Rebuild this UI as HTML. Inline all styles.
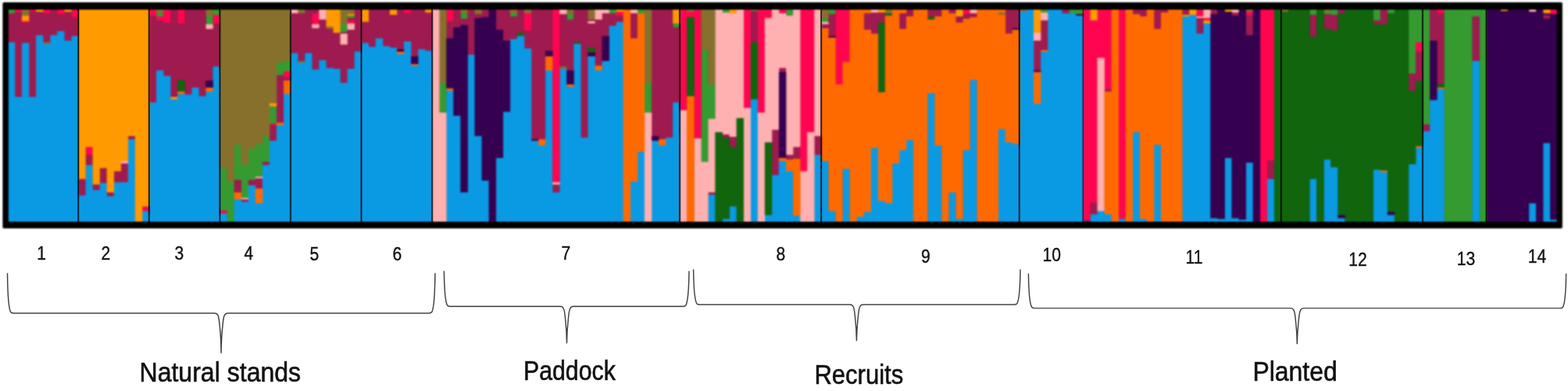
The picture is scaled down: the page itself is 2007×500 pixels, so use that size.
<!DOCTYPE html>
<html><head><meta charset="utf-8"><title>Structure plot</title>
<style>
html,body{margin:0;padding:0;background:#fff;}
body{width:2007px;height:500px;overflow:hidden;}
svg{display:block;}
text{font-family:"Liberation Sans",sans-serif;fill:#111;}
</style></head><body>
<svg width="2007" height="500" viewBox="0 0 2007 500">
<rect width="2007" height="500" fill="#fff"/>
<defs><filter id="bl" color-interpolation-filters="sRGB" x="-1%" y="-5%" width="102%" height="110%"><feGaussianBlur stdDeviation="0.8"/></filter></defs>
<g filter="url(#bl)">
<rect x="4.5" y="4" width="1994" height="287" fill="#000"/>
<g id="bars">
<path fill="#359B30" d="M9.85 11.8h9.36v5.2h-9.36zM200.03 17.0h9.36v4.0h-9.36zM263.42 20.0h9.36v11.0h-9.36zM272.48 11.8h9.36v7.2h-9.36zM281.53 215.0h9.36v54.0h-9.36zM290.59 232.0h9.36v52.2h-9.36zM299.65 185.0h9.36v45.0h-9.36zM308.70 211.0h9.36v42.0h-9.36zM317.76 190.0h9.36v40.0h-9.36zM326.82 184.0h9.36v42.0h-9.36zM335.87 174.0h9.36v33.0h-9.36zM344.93 136.0h9.36v22.0h-9.36zM353.98 80.0h9.36v16.0h-9.36zM363.04 78.0h9.36v13.0h-9.36zM435.49 31.0h9.36v10.0h-9.36zM444.55 20.0h9.36v3.0h-9.36zM562.28 106.0h9.36v38.0h-9.36zM589.44 17.0h9.36v7.0h-9.36zM652.84 17.0h9.36v4.0h-9.36zM725.29 18.0h9.36v7.0h-9.36zM779.62 11.8h9.36v5.2h-9.36zM815.85 11.8h9.36v5.2h-9.36zM824.90 106.0h9.36v38.0h-9.36zM861.13 30.0h9.36v5.0h-9.36zM897.35 64.0h9.36v143.0h-9.36zM906.41 108.0h9.36v44.0h-9.36zM924.52 11.8h9.36v4.2h-9.36zM1006.03 11.8h9.36v8.2h-9.36zM1051.31 23.0h9.36v5.0h-9.36zM1060.37 11.8h9.36v6.2h-9.36zM1332.05 11.8h9.36v4.2h-9.36zM1368.27 11.8h9.36v5.2h-9.36zM1377.33 11.8h9.36v6.2h-9.36zM1676.18 11.8h9.36v7.2h-9.36zM1694.30 15.0h9.36v3.0h-9.36zM1703.35 11.8h9.36v7.2h-9.36zM1757.69 11.8h9.36v14.2h-9.36zM1775.80 11.8h9.36v5.2h-9.36zM1802.97 11.8h9.36v82.2h-9.36zM1812.03 11.8h9.36v42.2h-9.36zM1821.08 11.8h9.36v147.2h-9.36zM1848.25 11.8h9.36v272.4h-9.36zM1857.31 11.8h9.36v272.4h-9.36zM1866.36 11.8h9.36v272.4h-9.36zM1875.42 11.8h9.36v272.4h-9.36zM1884.48 11.8h9.36v9.2h-9.36zM1893.53 11.8h9.36v272.4h-9.36z"/>
<path fill="#9E1A4F" d="M9.85 17.0h9.36v37.0h-9.36zM18.91 15.0h9.36v109.0h-9.36zM27.96 29.0h9.36v26.0h-9.36zM37.02 14.0h9.36v110.0h-9.36zM46.07 15.0h9.36v30.0h-9.36zM55.13 17.0h9.36v37.0h-9.36zM64.19 11.8h9.36v33.2h-9.36zM73.24 18.0h9.36v22.0h-9.36zM82.30 15.0h9.36v37.0h-9.36zM91.36 22.0h9.36v24.0h-9.36zM100.41 229.0h9.36v21.0h-9.36zM109.47 198.0h9.36v13.0h-9.36zM118.52 236.0h9.36v7.0h-9.36zM127.58 215.0h9.36v19.0h-9.36zM136.64 246.0h9.36v5.0h-9.36zM145.69 219.0h9.36v14.0h-9.36zM154.75 209.0h9.36v24.0h-9.36zM163.80 174.0h9.36v4.0h-9.36zM190.97 20.0h9.36v111.0h-9.36zM200.03 26.0h9.36v64.0h-9.36zM209.09 29.0h9.36v68.0h-9.36zM218.14 11.8h9.36v112.2h-9.36zM227.20 30.0h9.36v72.0h-9.36zM236.25 11.8h9.36v109.2h-9.36zM245.31 11.8h9.36v100.2h-9.36zM254.37 11.8h9.36v111.2h-9.36zM263.42 37.0h9.36v66.0h-9.36zM272.48 30.0h9.36v55.0h-9.36zM299.65 230.0h9.36v16.0h-9.36zM308.70 255.0h9.36v3.0h-9.36zM317.76 230.0h9.36v7.0h-9.36zM326.82 228.0h9.36v13.0h-9.36zM335.87 207.0h9.36v4.0h-9.36zM344.93 160.0h9.36v20.0h-9.36zM353.98 96.0h9.36v61.0h-9.36zM363.04 99.0h9.36v4.0h-9.36zM372.10 17.0h9.36v51.0h-9.36zM381.15 17.0h9.36v61.0h-9.36zM390.21 11.8h9.36v56.2h-9.36zM399.27 11.8h9.36v5.2h-9.36zM399.27 36.0h9.36v53.0h-9.36zM408.32 25.0h9.36v52.0h-9.36zM417.38 37.0h9.36v50.0h-9.36zM426.43 42.0h9.36v46.0h-9.36zM435.49 41.0h9.36v2.0h-9.36zM435.49 57.0h9.36v49.0h-9.36zM444.55 23.0h9.36v3.0h-9.36zM444.55 38.0h9.36v50.0h-9.36zM453.60 11.8h9.36v54.2h-9.36zM462.66 28.0h9.36v27.0h-9.36zM471.71 11.8h9.36v48.2h-9.36zM480.77 11.8h9.36v37.2h-9.36zM489.83 11.8h9.36v47.2h-9.36zM498.88 19.0h9.36v42.0h-9.36zM507.94 11.8h9.36v51.2h-9.36zM517.00 17.0h9.36v36.0h-9.36zM526.05 11.8h9.36v60.2h-9.36zM535.11 11.8h9.36v51.2h-9.36zM544.16 16.0h9.36v49.0h-9.36zM571.33 27.0h9.36v22.0h-9.36zM580.39 11.8h9.36v23.2h-9.36zM589.44 24.0h9.36v8.0h-9.36zM598.50 11.8h9.36v58.2h-9.36zM607.56 18.0h9.36v5.0h-9.36zM616.61 11.8h9.36v10.2h-9.36zM634.73 11.8h9.36v26.2h-9.36zM643.78 11.8h9.36v40.2h-9.36zM652.84 21.0h9.36v29.0h-9.36zM661.89 11.8h9.36v30.2h-9.36zM670.95 39.0h9.36v23.0h-9.36zM680.01 11.8h9.36v166.2h-9.36zM689.06 11.8h9.36v166.2h-9.36zM698.12 11.8h9.36v53.2h-9.36zM707.17 236.0h9.36v10.0h-9.36zM716.23 18.0h9.36v67.0h-9.36zM725.29 25.0h9.36v65.0h-9.36zM734.34 11.8h9.36v42.2h-9.36zM743.40 11.8h9.36v164.2h-9.36zM752.46 25.0h9.36v2.0h-9.36zM752.46 30.0h9.36v31.0h-9.36zM761.51 25.0h9.36v59.0h-9.36zM770.57 17.0h9.36v29.0h-9.36zM779.62 17.0h9.36v16.0h-9.36zM788.68 20.0h9.36v8.0h-9.36zM806.79 17.0h9.36v32.0h-9.36zM833.96 11.8h9.36v162.2h-9.36zM843.02 11.8h9.36v166.2h-9.36zM852.07 11.8h9.36v164.2h-9.36zM861.13 35.0h9.36v96.0h-9.36zM906.41 246.0h9.36v3.0h-9.36zM924.52 172.0h9.36v4.0h-9.36zM933.58 175.0h9.36v13.0h-9.36zM960.75 14.0h9.36v40.0h-9.36zM987.92 166.0h9.36v58.0h-9.36zM996.97 87.0h9.36v5.0h-9.36zM1006.03 198.0h9.36v6.0h-9.36zM1015.08 188.0h9.36v15.0h-9.36zM1042.25 174.0h9.36v24.0h-9.36zM1051.31 31.0h9.36v5.0h-9.36zM1060.37 18.0h9.36v28.0h-9.36zM1105.65 17.0h9.36v21.0h-9.36zM1114.70 16.0h9.36v27.0h-9.36zM1123.76 16.0h9.36v13.0h-9.36zM1150.93 17.0h9.36v20.0h-9.36zM1159.98 11.8h9.36v9.2h-9.36zM1187.15 11.8h9.36v9.2h-9.36zM1196.21 11.8h9.36v9.2h-9.36zM1214.32 11.8h9.36v5.2h-9.36zM1223.38 21.0h9.36v8.0h-9.36zM1232.43 18.0h9.36v6.0h-9.36zM1241.49 17.0h9.36v5.0h-9.36zM1286.77 11.8h9.36v31.2h-9.36zM1295.83 11.8h9.36v24.2h-9.36zM1322.99 52.0h9.36v38.0h-9.36zM1332.05 26.0h9.36v38.0h-9.36zM1359.22 11.8h9.36v5.2h-9.36zM1386.39 281.0h9.36v3.2h-9.36zM1395.44 259.0h9.36v15.0h-9.36zM1413.56 114.0h9.36v3.0h-9.36zM1449.78 11.8h9.36v6.2h-9.36zM1458.84 11.8h9.36v9.2h-9.36zM1476.95 11.8h9.36v25.2h-9.36zM1486.00 11.8h9.36v4.2h-9.36zM1513.17 11.8h9.36v7.2h-9.36zM1531.29 23.0h9.36v20.0h-9.36zM1549.40 11.8h9.36v6.2h-9.36zM1576.57 16.0h9.36v4.0h-9.36zM1594.68 20.0h9.36v25.0h-9.36zM1621.85 205.0h9.36v24.0h-9.36zM1676.18 19.0h9.36v28.0h-9.36zM1694.30 18.0h9.36v19.0h-9.36zM1703.35 19.0h9.36v20.0h-9.36zM1712.41 11.8h9.36v5.2h-9.36zM1757.69 26.0h9.36v5.0h-9.36zM1766.75 11.8h9.36v19.2h-9.36zM1802.97 94.0h9.36v22.0h-9.36zM1812.03 66.0h9.36v37.0h-9.36zM1821.08 159.0h9.36v9.0h-9.36zM1830.14 11.8h9.36v40.2h-9.36zM1839.20 17.0h9.36v90.0h-9.36zM1884.48 21.0h9.36v57.0h-9.36zM1975.04 19.0h9.36v5.0h-9.36z"/>
<path fill="#0A9AE4" d="M9.85 54.0h9.36v230.2h-9.36zM18.91 124.0h9.36v160.2h-9.36zM27.96 55.0h9.36v229.2h-9.36zM37.02 124.0h9.36v160.2h-9.36zM46.07 45.0h9.36v239.2h-9.36zM55.13 56.0h9.36v228.2h-9.36zM64.19 45.0h9.36v239.2h-9.36zM73.24 40.0h9.36v244.2h-9.36zM82.30 52.0h9.36v232.2h-9.36zM91.36 46.0h9.36v238.2h-9.36zM100.41 250.0h9.36v34.2h-9.36zM109.47 211.0h9.36v73.2h-9.36zM118.52 243.0h9.36v41.2h-9.36zM127.58 234.0h9.36v50.2h-9.36zM136.64 251.0h9.36v33.2h-9.36zM145.69 233.0h9.36v51.2h-9.36zM154.75 233.0h9.36v51.2h-9.36zM163.80 178.0h9.36v106.2h-9.36zM181.92 270.0h9.36v14.2h-9.36zM190.97 131.0h9.36v153.2h-9.36zM200.03 90.0h9.36v194.2h-9.36zM209.09 97.0h9.36v187.2h-9.36zM218.14 127.0h9.36v157.2h-9.36zM227.20 120.0h9.36v164.2h-9.36zM236.25 121.0h9.36v163.2h-9.36zM245.31 112.0h9.36v172.2h-9.36zM254.37 123.0h9.36v161.2h-9.36zM263.42 117.0h9.36v167.2h-9.36zM272.48 85.0h9.36v199.2h-9.36zM281.53 273.0h9.36v11.2h-9.36zM299.65 255.0h9.36v29.2h-9.36zM308.70 258.0h9.36v26.2h-9.36zM317.76 237.0h9.36v47.2h-9.36zM326.82 260.0h9.36v24.2h-9.36zM335.87 211.0h9.36v73.2h-9.36zM344.93 180.0h9.36v104.2h-9.36zM353.98 160.0h9.36v124.2h-9.36zM363.04 120.0h9.36v164.2h-9.36zM372.10 68.0h9.36v216.2h-9.36zM381.15 80.0h9.36v204.2h-9.36zM390.21 68.0h9.36v216.2h-9.36zM399.27 89.0h9.36v195.2h-9.36zM408.32 77.0h9.36v207.2h-9.36zM417.38 87.0h9.36v197.2h-9.36zM426.43 88.0h9.36v196.2h-9.36zM435.49 106.0h9.36v178.2h-9.36zM444.55 88.0h9.36v196.2h-9.36zM453.60 66.0h9.36v218.2h-9.36zM462.66 55.0h9.36v229.2h-9.36zM471.71 60.0h9.36v224.2h-9.36zM480.77 49.0h9.36v235.2h-9.36zM489.83 59.0h9.36v225.2h-9.36zM498.88 61.0h9.36v223.2h-9.36zM507.94 69.0h9.36v215.2h-9.36zM517.00 53.0h9.36v231.2h-9.36zM526.05 84.0h9.36v200.2h-9.36zM535.11 63.0h9.36v221.2h-9.36zM544.16 65.0h9.36v219.2h-9.36zM571.33 116.0h9.36v168.2h-9.36zM580.39 148.0h9.36v136.2h-9.36zM589.44 246.0h9.36v38.2h-9.36zM598.50 70.0h9.36v214.2h-9.36zM607.56 174.0h9.36v110.2h-9.36zM616.61 231.0h9.36v53.2h-9.36zM634.73 202.0h9.36v82.2h-9.36zM643.78 143.0h9.36v141.2h-9.36zM652.84 50.0h9.36v234.2h-9.36zM661.89 46.0h9.36v238.2h-9.36zM670.95 62.0h9.36v222.2h-9.36zM680.01 180.0h9.36v104.2h-9.36zM689.06 186.0h9.36v98.2h-9.36zM698.12 90.0h9.36v194.2h-9.36zM707.17 246.0h9.36v38.2h-9.36zM716.23 88.0h9.36v196.2h-9.36zM725.29 111.0h9.36v173.2h-9.36zM734.34 56.0h9.36v228.2h-9.36zM743.40 176.0h9.36v108.2h-9.36zM752.46 72.0h9.36v212.2h-9.36zM761.51 90.0h9.36v194.2h-9.36zM770.57 78.0h9.36v206.2h-9.36zM779.62 33.0h9.36v251.2h-9.36zM788.68 28.0h9.36v256.2h-9.36zM806.79 232.0h9.36v52.2h-9.36zM815.85 194.0h9.36v90.2h-9.36zM833.96 180.0h9.36v104.2h-9.36zM843.02 186.0h9.36v98.2h-9.36zM852.07 176.0h9.36v108.2h-9.36zM861.13 131.0h9.36v153.2h-9.36zM906.41 249.0h9.36v35.2h-9.36zM924.52 280.0h9.36v4.2h-9.36zM933.58 264.0h9.36v20.2h-9.36zM960.75 127.0h9.36v157.2h-9.36zM978.86 275.0h9.36v9.2h-9.36zM987.92 224.0h9.36v60.2h-9.36zM996.97 206.0h9.36v78.2h-9.36zM1006.03 219.0h9.36v65.2h-9.36zM1015.08 276.0h9.36v8.2h-9.36zM1042.25 198.0h9.36v86.2h-9.36zM1051.31 206.0h9.36v78.2h-9.36zM1060.37 270.0h9.36v14.2h-9.36zM1078.48 216.0h9.36v68.2h-9.36zM1096.59 277.0h9.36v7.2h-9.36zM1105.65 271.0h9.36v13.2h-9.36zM1114.70 189.0h9.36v95.2h-9.36zM1123.76 257.0h9.36v27.2h-9.36zM1132.81 260.0h9.36v24.2h-9.36zM1141.87 209.0h9.36v75.2h-9.36zM1150.93 192.0h9.36v92.2h-9.36zM1159.98 179.0h9.36v105.2h-9.36zM1187.15 119.0h9.36v165.2h-9.36zM1196.21 186.0h9.36v98.2h-9.36zM1214.32 246.0h9.36v38.2h-9.36zM1223.38 280.0h9.36v4.2h-9.36zM1232.43 192.0h9.36v92.2h-9.36zM1241.49 102.0h9.36v182.2h-9.36zM1277.71 165.0h9.36v119.2h-9.36zM1286.77 182.0h9.36v102.2h-9.36zM1295.83 184.0h9.36v100.2h-9.36zM1304.88 15.0h9.36v269.2h-9.36zM1313.94 11.8h9.36v272.4h-9.36zM1322.99 133.0h9.36v151.2h-9.36zM1332.05 66.0h9.36v218.2h-9.36zM1341.11 11.8h9.36v272.4h-9.36zM1350.16 11.8h9.36v272.4h-9.36zM1359.22 17.0h9.36v267.2h-9.36zM1368.27 17.0h9.36v267.2h-9.36zM1377.33 20.0h9.36v264.2h-9.36zM1395.44 274.0h9.36v10.2h-9.36zM1404.50 270.0h9.36v14.2h-9.36zM1413.56 274.0h9.36v10.2h-9.36zM1431.67 280.0h9.36v4.2h-9.36zM1449.78 169.0h9.36v115.2h-9.36zM1458.84 280.0h9.36v4.2h-9.36zM1476.95 185.0h9.36v99.2h-9.36zM1513.17 21.0h9.36v263.2h-9.36zM1522.23 19.0h9.36v265.2h-9.36zM1531.29 43.0h9.36v241.2h-9.36zM1540.34 30.0h9.36v254.2h-9.36zM1549.40 279.0h9.36v5.2h-9.36zM1558.45 280.0h9.36v4.2h-9.36zM1567.51 202.0h9.36v82.2h-9.36zM1576.57 279.0h9.36v5.2h-9.36zM1585.62 281.0h9.36v3.2h-9.36zM1594.68 208.0h9.36v76.2h-9.36zM1621.85 229.0h9.36v55.2h-9.36zM1676.18 229.0h9.36v55.2h-9.36zM1694.30 204.0h9.36v80.2h-9.36zM1703.35 214.0h9.36v70.2h-9.36zM1712.41 279.0h9.36v5.2h-9.36zM1757.69 217.0h9.36v67.2h-9.36zM1766.75 220.0h9.36v64.2h-9.36zM1775.80 275.0h9.36v9.2h-9.36zM1802.97 210.0h9.36v74.2h-9.36zM1812.03 189.0h9.36v95.2h-9.36zM1821.08 168.0h9.36v116.2h-9.36zM1830.14 128.0h9.36v156.2h-9.36zM1839.20 114.0h9.36v170.2h-9.36zM1884.48 78.0h9.36v206.2h-9.36zM1956.93 260.0h9.36v24.2h-9.36zM1975.04 183.0h9.36v101.2h-9.36zM1984.09 281.0h9.36v3.2h-9.36z"/>
<path fill="#FF0550" d="M18.91 11.8h9.36v3.2h-9.36zM27.96 27.0h9.36v2.0h-9.36zM37.02 11.8h9.36v2.2h-9.36zM55.13 11.8h9.36v5.2h-9.36zM73.24 11.8h9.36v6.2h-9.36zM91.36 11.8h9.36v10.2h-9.36zM109.47 188.0h9.36v10.0h-9.36zM181.92 264.0h9.36v6.0h-9.36zM190.97 11.8h9.36v8.2h-9.36zM200.03 21.0h9.36v5.0h-9.36zM209.09 11.8h9.36v17.2h-9.36zM227.20 11.8h9.36v18.2h-9.36zM272.48 19.0h9.36v11.0h-9.36zM281.53 269.0h9.36v4.0h-9.36zM344.93 158.0h9.36v2.0h-9.36zM363.04 91.0h9.36v8.0h-9.36zM399.27 17.0h9.36v14.0h-9.36zM444.55 26.0h9.36v4.0h-9.36zM517.00 11.8h9.36v5.2h-9.36zM571.33 11.8h9.36v15.2h-9.36zM670.95 17.0h9.36v22.0h-9.36zM707.17 11.8h9.36v221.2h-9.36zM788.68 15.0h9.36v5.0h-9.36zM870.19 11.8h9.36v129.2h-9.36zM879.24 15.0h9.36v7.0h-9.36zM888.30 11.8h9.36v165.2h-9.36zM951.69 11.8h9.36v126.2h-9.36zM969.80 11.8h9.36v132.2h-9.36zM978.86 11.8h9.36v11.2h-9.36zM996.97 11.8h9.36v5.2h-9.36zM1024.14 11.8h9.36v207.2h-9.36zM1033.20 11.8h9.36v157.2h-9.36zM1069.42 11.8h9.36v96.2h-9.36zM1078.48 11.8h9.36v67.2h-9.36zM1232.43 11.8h9.36v6.2h-9.36zM1386.39 11.8h9.36v269.2h-9.36zM1395.44 26.0h9.36v233.0h-9.36zM1404.50 11.8h9.36v62.2h-9.36zM1413.56 11.8h9.36v102.2h-9.36zM1431.67 11.8h9.36v268.2h-9.36zM1531.29 11.8h9.36v9.2h-9.36zM1540.34 23.0h9.36v3.0h-9.36zM1594.68 15.0h9.36v5.0h-9.36zM1612.79 11.8h9.36v272.4h-9.36zM1621.85 11.8h9.36v193.2h-9.36zM1812.03 54.0h9.36v12.0h-9.36zM1839.20 11.8h9.36v5.2h-9.36zM1984.09 11.8h9.36v6.2h-9.36z"/>
<path fill="#87702C" d="M27.96 11.8h9.36v8.2h-9.36zM55.13 54.0h9.36v2.0h-9.36zM200.03 11.8h9.36v5.2h-9.36zM263.42 11.8h9.36v8.2h-9.36zM281.53 11.8h9.36v203.2h-9.36zM290.59 11.8h9.36v220.2h-9.36zM299.65 11.8h9.36v173.2h-9.36zM308.70 11.8h9.36v199.2h-9.36zM317.76 11.8h9.36v178.2h-9.36zM326.82 11.8h9.36v172.2h-9.36zM335.87 11.8h9.36v162.2h-9.36zM344.93 11.8h9.36v120.2h-9.36zM353.98 11.8h9.36v68.2h-9.36zM363.04 11.8h9.36v66.2h-9.36zM381.15 11.8h9.36v5.2h-9.36zM381.15 78.0h9.36v2.0h-9.36zM417.38 34.0h9.36v3.0h-9.36zM435.49 11.8h9.36v19.2h-9.36zM444.55 11.8h9.36v6.2h-9.36zM562.28 11.8h9.36v94.2h-9.36zM589.44 11.8h9.36v5.2h-9.36zM607.56 11.8h9.36v6.2h-9.36zM652.84 11.8h9.36v5.2h-9.36zM670.95 11.8h9.36v5.2h-9.36zM716.23 85.0h9.36v3.0h-9.36zM725.29 11.8h9.36v6.2h-9.36zM752.46 11.8h9.36v13.2h-9.36zM824.90 11.8h9.36v94.2h-9.36zM879.24 11.8h9.36v3.2h-9.36zM897.35 11.8h9.36v52.2h-9.36zM906.41 11.8h9.36v96.2h-9.36zM960.75 11.8h9.36v2.2h-9.36zM1051.31 11.8h9.36v11.2h-9.36zM1132.81 11.8h9.36v5.2h-9.36zM1277.71 16.0h9.36v3.0h-9.36zM1304.88 11.8h9.36v3.2h-9.36zM1594.68 11.8h9.36v3.2h-9.36zM1639.96 11.8h9.36v3.2h-9.36zM1694.30 11.8h9.36v3.2h-9.36z"/>
<path fill="#FF9A00" d="M27.96 20.0h9.36v7.0h-9.36zM46.07 11.8h9.36v3.2h-9.36zM82.30 11.8h9.36v3.2h-9.36zM100.41 11.8h9.36v217.2h-9.36zM109.47 11.8h9.36v176.2h-9.36zM118.52 11.8h9.36v224.2h-9.36zM127.58 11.8h9.36v203.2h-9.36zM136.64 11.8h9.36v234.2h-9.36zM145.69 11.8h9.36v207.2h-9.36zM154.75 11.8h9.36v194.2h-9.36zM163.80 11.8h9.36v162.2h-9.36zM172.86 11.8h9.36v272.4h-9.36zM181.92 11.8h9.36v252.2h-9.36zM218.14 124.0h9.36v3.0h-9.36zM344.93 132.0h9.36v4.0h-9.36zM417.38 11.8h9.36v22.2h-9.36zM426.43 11.8h9.36v30.2h-9.36zM444.55 18.0h9.36v2.0h-9.36zM462.66 11.8h9.36v16.2h-9.36zM498.88 11.8h9.36v7.2h-9.36zM544.16 11.8h9.36v4.2h-9.36zM788.68 11.8h9.36v3.2h-9.36zM861.13 11.8h9.36v18.2h-9.36zM933.58 11.8h9.36v5.2h-9.36zM1123.76 11.8h9.36v4.2h-9.36zM1223.38 11.8h9.36v9.2h-9.36zM1322.99 11.8h9.36v30.2h-9.36zM1395.44 11.8h9.36v14.2h-9.36zM1513.17 19.0h9.36v2.0h-9.36zM1522.23 11.8h9.36v7.2h-9.36zM1540.34 26.0h9.36v4.0h-9.36zM1567.51 11.8h9.36v3.2h-9.36zM1920.70 11.8h9.36v2.2h-9.36zM1975.04 11.8h9.36v5.2h-9.36z"/>
<path fill="#FFB0B0" d="M154.75 206.0h9.36v3.0h-9.36zM263.42 31.0h9.36v6.0h-9.36zM308.70 253.0h9.36v2.0h-9.36zM326.82 226.0h9.36v2.0h-9.36zM372.10 11.8h9.36v5.2h-9.36zM399.27 31.0h9.36v5.0h-9.36zM408.32 11.8h9.36v13.2h-9.36zM435.49 43.0h9.36v14.0h-9.36zM444.55 30.0h9.36v8.0h-9.36zM553.22 11.8h9.36v272.4h-9.36zM562.28 144.0h9.36v140.2h-9.36zM707.17 233.0h9.36v3.0h-9.36zM716.23 11.8h9.36v6.2h-9.36zM752.46 27.0h9.36v3.0h-9.36zM761.51 11.8h9.36v13.2h-9.36zM770.57 11.8h9.36v5.2h-9.36zM806.79 11.8h9.36v5.2h-9.36zM824.90 144.0h9.36v140.2h-9.36zM870.19 141.0h9.36v143.2h-9.36zM888.30 177.0h9.36v107.2h-9.36zM897.35 207.0h9.36v77.2h-9.36zM906.41 152.0h9.36v94.0h-9.36zM915.47 11.8h9.36v157.2h-9.36zM924.52 16.0h9.36v156.0h-9.36zM933.58 17.0h9.36v158.0h-9.36zM942.63 11.8h9.36v139.2h-9.36zM951.69 138.0h9.36v146.2h-9.36zM969.80 144.0h9.36v140.2h-9.36zM978.86 23.0h9.36v159.0h-9.36zM987.92 11.8h9.36v154.2h-9.36zM996.97 17.0h9.36v70.0h-9.36zM1006.03 20.0h9.36v178.0h-9.36zM1015.08 11.8h9.36v176.2h-9.36zM1024.14 219.0h9.36v65.2h-9.36zM1033.20 169.0h9.36v115.2h-9.36zM1042.25 11.8h9.36v162.2h-9.36zM1051.31 28.0h9.36v3.0h-9.36zM1114.70 11.8h9.36v4.2h-9.36zM1241.49 11.8h9.36v5.2h-9.36zM1322.99 42.0h9.36v10.0h-9.36zM1332.05 16.0h9.36v10.0h-9.36zM1404.50 74.0h9.36v196.0h-9.36zM1531.29 21.0h9.36v2.0h-9.36zM1540.34 11.8h9.36v11.2h-9.36zM1576.57 11.8h9.36v4.2h-9.36zM1956.93 11.8h9.36v3.2h-9.36z"/>
<path fill="#10650D" d="M227.20 102.0h9.36v15.0h-9.36zM661.89 42.0h9.36v4.0h-9.36zM734.34 54.0h9.36v2.0h-9.36zM752.46 61.0h9.36v6.0h-9.36zM879.24 22.0h9.36v101.0h-9.36zM915.47 169.0h9.36v115.2h-9.36zM924.52 176.0h9.36v104.0h-9.36zM933.58 188.0h9.36v76.0h-9.36zM942.63 151.0h9.36v133.2h-9.36zM960.75 54.0h9.36v73.0h-9.36zM978.86 182.0h9.36v93.0h-9.36zM1123.76 29.0h9.36v89.0h-9.36zM1132.81 17.0h9.36v3.0h-9.36zM1187.15 21.0h9.36v4.0h-9.36zM1630.90 11.8h9.36v272.4h-9.36zM1639.96 15.0h9.36v269.2h-9.36zM1649.02 11.8h9.36v272.4h-9.36zM1658.07 11.8h9.36v272.4h-9.36zM1667.13 11.8h9.36v272.4h-9.36zM1676.18 47.0h9.36v182.0h-9.36zM1685.24 11.8h9.36v272.4h-9.36zM1694.30 37.0h9.36v167.0h-9.36zM1703.35 39.0h9.36v175.0h-9.36zM1712.41 17.0h9.36v258.0h-9.36zM1721.47 11.8h9.36v272.4h-9.36zM1730.52 11.8h9.36v272.4h-9.36zM1739.58 11.8h9.36v272.4h-9.36zM1748.63 11.8h9.36v272.4h-9.36zM1757.69 31.0h9.36v186.0h-9.36zM1766.75 31.0h9.36v187.0h-9.36zM1775.80 17.0h9.36v254.0h-9.36zM1784.86 11.8h9.36v272.4h-9.36zM1793.91 11.8h9.36v272.4h-9.36zM1802.97 116.0h9.36v94.0h-9.36zM1812.03 103.0h9.36v84.0h-9.36zM1839.20 107.0h9.36v5.0h-9.36z"/>
<path fill="#FF6A00" d="M227.20 117.0h9.36v3.0h-9.36zM263.42 112.0h9.36v5.0h-9.36zM299.65 246.0h9.36v9.0h-9.36zM326.82 241.0h9.36v19.0h-9.36zM353.98 157.0h9.36v3.0h-9.36zM363.04 103.0h9.36v17.0h-9.36zM507.94 66.0h9.36v3.0h-9.36zM526.05 82.0h9.36v2.0h-9.36zM571.33 113.0h9.36v3.0h-9.36zM689.06 178.0h9.36v8.0h-9.36zM698.12 72.0h9.36v18.0h-9.36zM725.29 108.0h9.36v3.0h-9.36zM761.51 84.0h9.36v6.0h-9.36zM797.74 11.8h9.36v272.4h-9.36zM806.79 49.0h9.36v183.0h-9.36zM815.85 17.0h9.36v177.0h-9.36zM843.02 178.0h9.36v8.0h-9.36zM879.24 123.0h9.36v161.2h-9.36zM996.97 202.0h9.36v4.0h-9.36zM1006.03 204.0h9.36v15.0h-9.36zM1015.08 203.0h9.36v73.0h-9.36zM1051.31 36.0h9.36v170.0h-9.36zM1060.37 48.0h9.36v222.0h-9.36zM1069.42 108.0h9.36v176.2h-9.36zM1078.48 79.0h9.36v137.0h-9.36zM1087.53 11.8h9.36v272.4h-9.36zM1096.59 11.8h9.36v265.2h-9.36zM1105.65 11.8h9.36v5.2h-9.36zM1105.65 38.0h9.36v233.0h-9.36zM1114.70 43.0h9.36v146.0h-9.36zM1123.76 118.0h9.36v139.0h-9.36zM1132.81 20.0h9.36v240.0h-9.36zM1141.87 11.8h9.36v197.2h-9.36zM1150.93 11.8h9.36v5.2h-9.36zM1150.93 37.0h9.36v155.0h-9.36zM1159.98 21.0h9.36v158.0h-9.36zM1169.04 11.8h9.36v272.4h-9.36zM1178.10 11.8h9.36v272.4h-9.36zM1187.15 25.0h9.36v94.0h-9.36zM1196.21 21.0h9.36v165.0h-9.36zM1205.26 11.8h9.36v272.4h-9.36zM1214.32 17.0h9.36v229.0h-9.36zM1223.38 29.0h9.36v251.0h-9.36zM1232.43 24.0h9.36v168.0h-9.36zM1241.49 22.0h9.36v80.0h-9.36zM1250.54 11.8h9.36v272.4h-9.36zM1259.60 11.8h9.36v272.4h-9.36zM1268.66 11.8h9.36v272.4h-9.36zM1277.71 11.8h9.36v4.2h-9.36zM1277.71 19.0h9.36v146.0h-9.36zM1286.77 43.0h9.36v139.0h-9.36zM1295.83 38.0h9.36v146.0h-9.36zM1322.99 92.0h9.36v41.0h-9.36zM1332.05 64.0h9.36v2.0h-9.36zM1413.56 117.0h9.36v157.0h-9.36zM1422.61 11.8h9.36v272.4h-9.36zM1440.72 11.8h9.36v272.4h-9.36zM1449.78 18.0h9.36v151.0h-9.36zM1458.84 21.0h9.36v259.0h-9.36zM1467.89 11.8h9.36v272.4h-9.36zM1476.95 37.0h9.36v148.0h-9.36zM1486.00 16.0h9.36v268.2h-9.36zM1495.06 11.8h9.36v272.4h-9.36zM1504.12 11.8h9.36v272.4h-9.36zM1766.75 218.0h9.36v2.0h-9.36zM1812.03 187.0h9.36v2.0h-9.36zM1839.20 112.0h9.36v2.0h-9.36z"/>
<path fill="#350050" d="M263.42 103.0h9.36v9.0h-9.36zM507.94 63.0h9.36v3.0h-9.36zM526.05 72.0h9.36v10.0h-9.36zM571.33 49.0h9.36v64.0h-9.36zM580.39 35.0h9.36v113.0h-9.36zM589.44 32.0h9.36v214.0h-9.36zM607.56 23.0h9.36v151.0h-9.36zM616.61 22.0h9.36v209.0h-9.36zM625.67 11.8h9.36v272.4h-9.36zM634.73 38.0h9.36v164.0h-9.36zM643.78 52.0h9.36v91.0h-9.36zM680.01 178.0h9.36v2.0h-9.36zM698.12 65.0h9.36v7.0h-9.36zM725.29 90.0h9.36v18.0h-9.36zM752.46 67.0h9.36v5.0h-9.36zM770.57 46.0h9.36v32.0h-9.36zM833.96 174.0h9.36v6.0h-9.36zM996.97 92.0h9.36v110.0h-9.36zM1060.37 46.0h9.36v2.0h-9.36zM1295.83 36.0h9.36v2.0h-9.36zM1322.99 90.0h9.36v2.0h-9.36zM1377.33 18.0h9.36v2.0h-9.36zM1549.40 18.0h9.36v261.0h-9.36zM1558.45 11.8h9.36v268.2h-9.36zM1567.51 15.0h9.36v187.0h-9.36zM1576.57 20.0h9.36v259.0h-9.36zM1585.62 11.8h9.36v269.2h-9.36zM1594.68 45.0h9.36v163.0h-9.36zM1603.73 11.8h9.36v272.4h-9.36zM1712.41 275.0h9.36v4.0h-9.36zM1775.80 271.0h9.36v4.0h-9.36zM1830.14 52.0h9.36v76.0h-9.36zM1902.59 11.8h9.36v272.4h-9.36zM1911.64 11.8h9.36v272.4h-9.36zM1920.70 14.0h9.36v270.2h-9.36zM1929.76 11.8h9.36v272.4h-9.36zM1938.81 11.8h9.36v272.4h-9.36zM1947.87 11.8h9.36v272.4h-9.36zM1956.93 15.0h9.36v245.0h-9.36zM1965.98 11.8h9.36v272.4h-9.36zM1975.04 17.0h9.36v2.0h-9.36zM1975.04 24.0h9.36v159.0h-9.36zM1984.09 18.0h9.36v263.0h-9.36z"/>
</g>
</g>
<g filter="url(#bl)"><path fill="#000" fill-rule="evenodd" d="M3.7 3.2H1999.6V291.8H3.7Z M10.5 11.5V284.0H1993.1V11.5Z"/></g>
<g id="dividers"><rect x="98.91" y="10.5" width="2.70" height="273.5" fill="#000" fill-opacity="0.3"/><rect x="99.61" y="10.5" width="1.30" height="273.5" fill="#000" fill-opacity="0.85"/><rect x="189.47" y="10.5" width="2.70" height="273.5" fill="#000" fill-opacity="0.3"/><rect x="190.17" y="10.5" width="1.30" height="273.5" fill="#000" fill-opacity="0.85"/><rect x="280.03" y="10.5" width="2.70" height="273.5" fill="#000" fill-opacity="0.3"/><rect x="280.73" y="10.5" width="1.30" height="273.5" fill="#000" fill-opacity="0.85"/><rect x="370.60" y="10.5" width="2.70" height="273.5" fill="#000" fill-opacity="0.3"/><rect x="371.30" y="10.5" width="1.30" height="273.5" fill="#000" fill-opacity="0.85"/><rect x="461.16" y="10.5" width="2.70" height="273.5" fill="#000" fill-opacity="0.3"/><rect x="461.86" y="10.5" width="1.30" height="273.5" fill="#000" fill-opacity="0.85"/><rect x="551.72" y="10.5" width="2.70" height="273.5" fill="#000" fill-opacity="0.3"/><rect x="552.42" y="10.5" width="1.30" height="273.5" fill="#000" fill-opacity="0.85"/><rect x="868.69" y="10.5" width="2.70" height="273.5" fill="#000" fill-opacity="0.3"/><rect x="869.39" y="10.5" width="1.30" height="273.5" fill="#000" fill-opacity="0.85"/><rect x="1049.81" y="10.5" width="2.70" height="273.5" fill="#000" fill-opacity="0.3"/><rect x="1050.51" y="10.5" width="1.30" height="273.5" fill="#000" fill-opacity="0.85"/><rect x="1303.38" y="10.5" width="2.70" height="273.5" fill="#000" fill-opacity="0.3"/><rect x="1304.08" y="10.5" width="1.30" height="273.5" fill="#000" fill-opacity="0.85"/><rect x="1385.29" y="10.5" width="1.90" height="273.5" fill="#000" fill-opacity="0.3"/><rect x="1385.99" y="10.5" width="0.50" height="273.5" fill="#000" fill-opacity="0.85"/><rect x="1638.46" y="10.5" width="2.70" height="273.5" fill="#000" fill-opacity="0.3"/><rect x="1639.16" y="10.5" width="1.30" height="273.5" fill="#000" fill-opacity="0.85"/><rect x="1819.58" y="10.5" width="2.70" height="273.5" fill="#000" fill-opacity="0.3"/><rect x="1820.28" y="10.5" width="1.30" height="273.5" fill="#000" fill-opacity="0.85"/><rect x="1901.29" y="10.5" width="2.30" height="273.5" fill="#000" fill-opacity="0.3"/><rect x="1901.99" y="10.5" width="0.90" height="273.5" fill="#000" fill-opacity="0.85"/></g>
<g id="braces"><path d="M9.50 349.20 C9.80 377.36 11.00 394.40 13.70 399.10 C14.70 400.20 15.70 400.40 17.00 400.40 L274.60 400.40 C278.60 400.40 279.90 403.40 280.90 413.40 C281.80 422.40 282.80 428.40 283.10 451.20 C283.40 428.40 284.40 422.40 285.30 413.40 C286.30 403.40 287.60 400.40 291.60 400.40 L549.40 400.40 C550.70 400.40 551.70 400.20 552.70 399.10 C555.40 394.40 556.60 377.36 556.90 349.20" fill="none" stroke="#404040" stroke-width="1.45" stroke-linejoin="round"/><path d="M568.40 346.50 C568.70 371.42 569.90 385.80 572.60 390.50 C573.60 391.60 574.60 391.80 575.90 391.80 L717.00 391.80 C721.00 391.80 722.30 394.80 723.30 404.80 C724.20 413.80 725.20 419.80 725.50 438.50 C725.80 419.80 726.80 413.80 727.70 404.80 C728.70 394.80 730.00 391.80 734.00 391.80 L874.50 391.80 C875.80 391.80 876.80 391.60 877.80 390.50 C880.50 385.80 881.70 371.42 882.00 346.50" fill="none" stroke="#404040" stroke-width="1.45" stroke-linejoin="round"/><path d="M887.60 344.40 C887.90 369.20 889.10 383.50 891.80 388.20 C892.80 389.30 893.80 389.50 895.10 389.50 L1087.90 389.50 C1091.90 389.50 1093.20 392.50 1094.20 402.50 C1095.10 411.50 1096.10 417.50 1096.40 435.60 C1096.70 417.50 1097.70 411.50 1098.60 402.50 C1099.60 392.50 1100.90 389.50 1104.90 389.50 L1298.50 389.50 C1299.80 389.50 1300.80 389.30 1301.80 388.20 C1304.50 383.50 1305.70 369.20 1306.00 344.40" fill="none" stroke="#404040" stroke-width="1.45" stroke-linejoin="round"/><path d="M1316.40 349.70 C1316.70 374.12 1317.90 388.10 1320.60 392.80 C1321.60 393.90 1322.60 394.10 1323.90 394.10 L1651.80 394.10 C1655.80 394.10 1657.10 397.10 1658.10 407.10 C1659.00 416.10 1660.00 422.10 1660.30 439.60 C1660.60 422.10 1661.60 416.10 1662.50 407.10 C1663.50 397.10 1664.80 394.10 1668.80 394.10 L1997.10 394.10 C1998.40 394.10 1999.40 393.90 2000.40 392.80 C2003.10 388.10 2004.30 374.12 2004.60 349.70" fill="none" stroke="#404040" stroke-width="1.45" stroke-linejoin="round"/></g>
<g id="nums"><text transform="translate(47.30 331.70) scale(0.8600 1)" font-size="24.50" stroke="#111" stroke-width="0.40">1</text><text transform="translate(129.40 331.70) scale(0.8600 1)" font-size="24.50" stroke="#111" stroke-width="0.40">2</text><text transform="translate(223.40 331.70) scale(0.8600 1)" font-size="24.50" stroke="#111" stroke-width="0.40">3</text><text transform="translate(312.40 331.70) scale(0.8600 1)" font-size="24.50" stroke="#111" stroke-width="0.40">4</text><text transform="translate(396.60 333.40) scale(0.8600 1)" font-size="24.50" stroke="#111" stroke-width="0.40">5</text><text transform="translate(502.40 332.50) scale(0.8600 1)" font-size="24.50" stroke="#111" stroke-width="0.40">6</text><text transform="translate(718.60 331.70) scale(0.8600 1)" font-size="24.50" stroke="#111" stroke-width="0.40">7</text><text transform="translate(993.40 332.80) scale(0.8600 1)" font-size="24.50" stroke="#111" stroke-width="0.40">8</text><text transform="translate(1179.00 336.10) scale(0.8600 1)" font-size="24.50" stroke="#111" stroke-width="0.40">9</text><text transform="translate(1334.60 334.10) scale(0.8600 1)" font-size="24.50" stroke="#111" stroke-width="0.40">10</text><text transform="translate(1517.50 337.10) scale(0.8600 1)" font-size="24.50" stroke="#111" stroke-width="0.40">11</text><text transform="translate(1726.20 339.60) scale(0.8600 1)" font-size="24.50" stroke="#111" stroke-width="0.40">12</text><text transform="translate(1864.80 339.40) scale(0.8600 1)" font-size="24.50" stroke="#111" stroke-width="0.40">13</text><text transform="translate(1955.80 335.60) scale(0.8600 1)" font-size="24.50" stroke="#111" stroke-width="0.40">14</text></g>
<g id="labels"><text transform="translate(178.50 488.20) scale(0.9161 1)" font-size="35.00" stroke="#111" stroke-width="0.60">Natural stands</text><text transform="translate(670.00 485.80) scale(0.8651 1)" font-size="35.00" stroke="#111" stroke-width="0.60">Paddock</text><text transform="translate(1042.40 490.60) scale(0.8864 1)" font-size="35.00" stroke="#111" stroke-width="0.60">Recruits</text><text transform="translate(1603.40 487.30) scale(0.9131 1)" font-size="35.00" stroke="#111" stroke-width="0.60">Planted</text></g>
</svg>
</body></html>
